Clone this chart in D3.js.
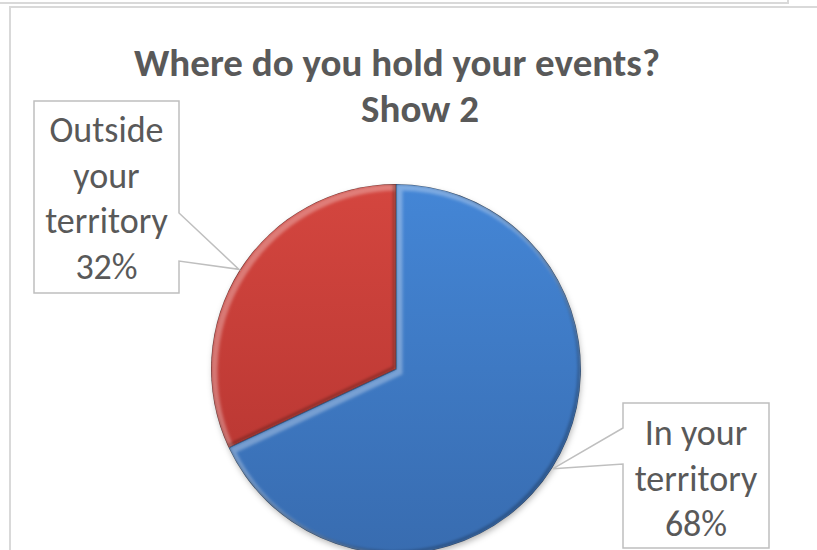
<!DOCTYPE html>
<html>
<head>
<meta charset="utf-8">
<script src="https://cdn.jsdelivr.net/npm/d3@7"></script>
<style>
  html, body { margin: 0; padding: 0; background: #fff; }
  svg { display: block; }
</style>
</head>
<body>
<svg id="chart" width="817" height="550"></svg>
<script>
// ---- Data ----
const titleLines = ["Where do you hold your events?", "Show 2"];
const categories = ["In your territory", "Outside your territory"];
const values = [68, 32];
const labelLines = [["In your", "territory"], ["Outside", "your", "territory"]];
const colorsTop = ["#4486d6", "#d4463f"];
const colorsBottom = ["#386cb0", "#b2332f"];

// ---- Layout ----
const W = 817, H = 550;
const cx = 396, cy = 369, R = 185;
const svg = d3.select("#chart");
const defs = svg.append("defs");

// Frames
svg.append("path").attr("d", "M0,3 H788 V0").attr("fill", "none")
  .attr("stroke", "#d9d9d9").attr("stroke-width", 2);
svg.append("path").attr("d", `M10,${H} V7 H${W}`).attr("fill", "none")
  .attr("stroke", "#d9d9d9").attr("stroke-width", 2);

// Title
const titleFont = "Carlito, Lato, 'Open Sans', sans-serif";
const titlePos = [{x: 397, y: 76}, {x: 420, y: 122}];
svg.selectAll("text.title").data(titleLines).join("text")
  .attr("class", "title")
  .attr("x", (d, i) => titlePos[i].x).attr("y", (d, i) => titlePos[i].y)
  .attr("text-anchor", "middle")
  .attr("font-family", titleFont).attr("font-weight", "bold")
  .attr("font-size", 39).attr("fill", "#595959")
  .text(d => d);

// Pie
const pie = d3.pie().sort(null).value(d => d);
const arcs = pie(values);
const arc = d3.arc().innerRadius(0).outerRadius(R);

arcs.forEach((a, i) => {
  const g = defs.append("linearGradient").attr("id", "grad" + i)
    .attr("gradientUnits", "userSpaceOnUse")
    .attr("x1", 0).attr("y1", -R).attr("x2", 0).attr("y2", R);
  g.append("stop").attr("offset", "0%").attr("stop-color", colorsTop[i]);
  g.append("stop").attr("offset", "100%").attr("stop-color", colorsBottom[i]);
  defs.append("clipPath").attr("id", "clip" + i)
    .append("path").attr("d", arc(a));
});
defs.append("filter").attr("id", "soft").attr("x", "-20%").attr("y", "-20%")
  .attr("width", "140%").attr("height", "140%")
  .append("feGaussianBlur").attr("stdDeviation", 1.8);
const sh = defs.append("filter").attr("id", "shadow").attr("x", "-20%").attr("y", "-20%")
  .attr("width", "140%").attr("height", "140%");
sh.append("feDropShadow").attr("dx", 1).attr("dy", 3).attr("stdDeviation", 3)
  .attr("flood-color", "#000").attr("flood-opacity", 0.3);

const pieG = svg.append("g").attr("transform", `translate(${cx},${cy})`);
pieG.append("circle").attr("r", R - 1).attr("fill", "#3a6db0").attr("filter", "url(#shadow)");

arcs.forEach((a, i) => {
  const g = pieG.append("g").attr("clip-path", `url(#clip${i})`);
  g.append("path").attr("d", arc(a)).attr("fill", `url(#grad${i})`);
  g.append("path").attr("d", arc(a)).attr("fill", "none")
    .attr("stroke", "rgba(255,255,255,0.3)").attr("stroke-width", 7)
    .attr("transform", "translate(3,3)").attr("filter", "url(#soft)");
  g.append("path").attr("d", arc(a)).attr("fill", "none")
    .attr("stroke", "rgba(0,0,0,0.3)").attr("stroke-width", 3)
    .attr("transform", "translate(-1.5,-1.5)").attr("filter", "url(#soft)");
  g.append("path").attr("d", arc(a)).attr("fill", "none")
    .attr("stroke", "rgba(0,0,0,0.35)").attr("stroke-width", 1.2);
});

// Callouts
const boxes = [
  {x0: 623, y0: 403, x1: 769, y1: 548, side: "left", p0: 428, p1: 464, base: 445},
  {x0: 34, y0: 101, x1: 179, y1: 293, side: "right", p0: 213, p1: 261, base: 142}
];
const lineH = 45.5;
const labelFont = "Carlito, Lato, 'Open Sans', sans-serif";
arcs.forEach((a, i) => {
  const b = boxes[i];
  const mid = (a.startAngle + a.endAngle) / 2;
  const tx = cx + (R + 1) * Math.sin(mid);
  const ty = cy - (R + 1) * Math.cos(mid);
  let d;
  if (b.side === "right") {
    d = `M${b.x0},${b.y0} H${b.x1} V${b.p0} L${tx},${ty} L${b.x1},${b.p1} V${b.y1} H${b.x0} Z`;
  } else {
    d = `M${b.x0},${b.y0} H${b.x1} V${b.y1} H${b.x0} V${b.p1} L${tx},${ty} L${b.x0},${b.p0} Z`;
  }
  svg.append("path").attr("d", d).attr("fill", "#fff")
    .attr("stroke", "#bfbfbf").attr("stroke-width", 1.5).attr("stroke-linejoin", "miter");
  const lines = labelLines[i].concat([values[i] + "%"]);
  const t = svg.append("text")
    .attr("text-anchor", "middle")
    .attr("font-family", labelFont).attr("font-size", 36).attr("fill", "#595959");
  lines.forEach((ln, k) => {
    t.append("tspan").attr("x", (b.x0 + b.x1) / 2).attr("y", b.base + k * lineH).text(ln);
  });
});
</script>
</body>
</html>
